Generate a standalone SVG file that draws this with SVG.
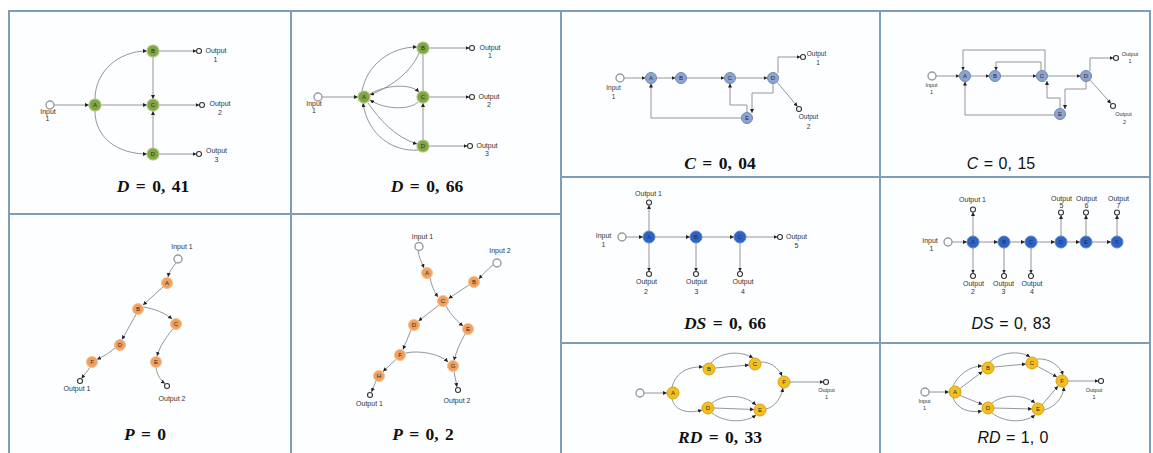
<svg xmlns="http://www.w3.org/2000/svg" width="1153" height="453" viewBox="0 0 1153 453">
<style>
.bg{fill:#fdfeff}
.frame{stroke:#7d9db8;stroke-width:2;fill:none}
.e{fill:none;stroke:#8a8a8a;stroke-width:0.9;marker-end:url(#ah)}
.en{fill:none;stroke:#8a8a8a;stroke-width:0.9}
.in{fill:#fff;stroke:#9a9a9a;stroke-width:1.4}
.out{fill:#fff;stroke:#333;stroke-width:1.1}
.n text{font-family:"Liberation Sans",Arial,sans-serif;font-size:6px;text-anchor:middle;fill:#2a2a2a}
.g circle{fill:#80a642;stroke:#adc784;stroke-width:1.2}
.lb circle{fill:#8ca4cf;stroke:#6d87b6;stroke-width:1}
.o circle{fill:#f0a05e;stroke:#f5c08e;stroke-width:1}
.db circle{fill:#2e63c2;stroke:#5a85d0;stroke-width:1}
.db text{fill:#173268}
.y circle{fill:#f1c020;stroke:#d7a112;stroke-width:1}
.l{font-family:"Liberation Sans",Arial,sans-serif;font-size:7px;text-anchor:middle;fill:#333}
.s65{font-size:6.5px}
.s55{font-size:5.5px}
.t{font-family:"Liberation Serif","Times New Roman",serif;font-weight:bold;font-size:17.5px;text-anchor:middle;fill:#111;word-spacing:2px}
.t2{font-family:"Liberation Sans",Arial,sans-serif;font-size:16px;text-anchor:middle;fill:#111;word-spacing:1px}
</style>
<defs>
<marker id="ah" viewBox="0 0 6 6" refX="6" refY="3" markerWidth="4" markerHeight="4" orient="auto" markerUnits="userSpaceOnUse"><path d="M0,0 L6,3 L0,6 z" fill="#222"/></marker>
</defs>
<rect width="1153" height="453" fill="#fff"/>
<g id="panels">
<rect class="bg" x="9" y="11" width="1141" height="442"/>
<path class="frame" d="M9,460 L9,11 L1150,11 L1150,460 M291,11 L291,460 M561,11 L561,460 M880,11 L880,460 M9,214 L561,214 M561,177 L1150,177 M561,343 L1150,343"/>
</g>

<!-- ================= Panel 1: D = 0,41 ================= -->
<g id="connectors">
<!-- P1 -->
<path class="e" d="M54,105 L89,105"/>
<path class="e" d="M95,99 C95,72 118,51 147,51"/>
<path class="e" d="M95,111 C95,138 118,154 147,154"/>
<path class="e" d="M101,105 L147,105"/>
<path class="e" d="M153,57 L153,99"/>
<path class="e" d="M153,148 L153,111"/>
<path class="e" d="M159,51 L196.5,51"/>
<path class="e" d="M159,105 L199.5,105"/>
<path class="e" d="M159,154 L196.5,154"/>
<!-- P2 -->
<path class="e" d="M322,97 L358,97"/>
<path class="e" d="M362,91 C367,65 390,47 417,47"/>
<path class="e" d="M419,53 C412,70 395,85 370,95"/>
<path class="e" d="M370,94 C385,85 410,83 419,92"/>
<path class="e" d="M418,102 C410,110 385,110 370,100"/>
<path class="e" d="M368,103 C380,120 395,137 417,144"/>
<path class="e" d="M418,150 C395,152 368,137 363,103"/>
<path class="en" d="M423,54 L423,91"/>
<path class="e" d="M423,140 L423,103"/>
<path class="e" d="M429,48 L469.5,48"/>
<path class="e" d="M429,97 L469.5,97"/>
<path class="e" d="M429,146 L467.5,146"/>
<!-- P3 -->
<path class="e" d="M624,78 L645.5,78"/>
<path class="e" d="M656.5,78 L675.5,78"/>
<path class="e" d="M686.5,78 L724.5,78"/>
<path class="e" d="M735.5,78 L767.5,78"/>
<path class="e" d="M778,73 L778,57 L800.5,57"/>
<path class="e" d="M777,82 L797.5,106.5"/>
<path class="e" d="M741.5,118 L651,118 L651,83.5"/>
<path class="e" d="M747,112.5 L747,105 L730,105 L730,83.5"/>
<path class="e" d="M773,83.5 L773,93 L752,93 L752,113"/>
<!-- P4 -->
<path class="e" d="M936,76 L959.5,76"/>
<path class="e" d="M970.5,76 L989.5,76"/>
<path class="e" d="M1000.5,76 L1036.5,76"/>
<path class="e" d="M1047.5,76 L1080.5,76"/>
<path class="e" d="M1045,71 L1045,50 L963,50 L963,70.5"/>
<path class="e" d="M1041,70.5 L1041,62 L996,62 L996,70.5"/>
<path class="e" d="M1054.5,115 L965,115 L965,81.5"/>
<path class="e" d="M1060,108.5 L1060,98 L1047,98 L1047,81"/>
<path class="e" d="M1086,81.5 L1086,89 L1065,89 L1065,109"/>
<path class="e" d="M1090,71 L1090,58 L1113.5,58"/>
<path class="e" d="M1090,80 L1111,103.5"/>
<!-- P5 -->
<path class="e" d="M176,263 C172,268 169,272 168,277"/>
<path class="e" d="M163,287 L143,305"/>
<path class="e" d="M143.5,307 C155,309 165,313 172,319"/>
<path class="e" d="M136,314.5 L122,339.5"/>
<path class="e" d="M115,348 C108,354 102,357 97,359.5"/>
<path class="e" d="M173,329 C166,337 160,346 157,356"/>
<path class="e" d="M90,367.5 L81.5,378.5"/>
<path class="e" d="M156,367.5 C157,375 161,381 165,383.5"/>
<!-- P6 -->
<path class="e" d="M418,250.5 C419,258 422,263 424,268"/>
<path class="e" d="M493,265 C487,270 482,275 479,279"/>
<path class="e" d="M430,278 C432,287 435,293 438,297"/>
<path class="e" d="M469,285 L448.5,298.5"/>
<path class="e" d="M439,305 L418.5,321"/>
<path class="e" d="M446,306 C451,315 458,322 463,326"/>
<path class="e" d="M411,330 L403,349.5"/>
<path class="e" d="M465,334 C460,343 456,352 454,360.5"/>
<path class="e" d="M405.5,353 C420,350 440,354 448,362"/>
<path class="e" d="M396,359.5 L383,371.5"/>
<path class="e" d="M376,381 L371.5,392"/>
<path class="e" d="M454,371.5 L457,387"/>
<!-- P7 -->
<path class="e" d="M626,237 L643,237"/>
<path class="e" d="M655,237 L690,237"/>
<path class="e" d="M702,237 L734,237"/>
<path class="e" d="M746,237 L777.5,237"/>
<path class="e" d="M649,231 L649,205"/>
<path class="e" d="M649,243 L649,271.5"/>
<path class="e" d="M696,243 L696,271.5"/>
<path class="e" d="M740,243 L740,271.5"/>
<!-- P8 -->
<path class="e" d="M952,242 L967,242"/>
<path class="e" d="M979,242 L998,242"/>
<path class="e" d="M1010,242 L1025,242"/>
<path class="e" d="M1037,242 L1055,242"/>
<path class="e" d="M1067,242 L1080,242"/>
<path class="e" d="M1092,242 L1111,242"/>
<path class="e" d="M973,236 L973,212"/>
<path class="e" d="M1061,236 L1061,215"/>
<path class="e" d="M1086,236 L1086,215"/>
<path class="e" d="M1117,236 L1117,215"/>
<path class="e" d="M973,248 L973,273.5"/>
<path class="e" d="M1004,248 L1004,273.5"/>
<path class="e" d="M1031,248 L1031,273.5"/>
<!-- P9 -->
<path class="e" d="M644,393 L667,393"/>
<path class="e" d="M672,387 C675,375 685,366 703,367"/>
<path class="e" d="M672,399 C675,411 688,414 702,410"/>
<path class="e" d="M715,368 L749,365"/>
<path class="e" d="M711,363 C720,352 740,350 753,358"/>
<path class="e" d="M761,362 C770,362 778,367 782,376"/>
<path class="e" d="M714,408 L754,409.5"/>
<path class="e" d="M712,403 C725,393 745,395 756,405"/>
<path class="e" d="M712,413 C725,423 745,423 756,415"/>
<path class="e" d="M766,409 C775,407 781,398 783,388"/>
<path class="e" d="M790,382 L823.5,382"/>
<!-- P10 -->
<path class="e" d="M929,392 L949,392"/>
<path class="e" d="M960,388.5 L982.5,371.5"/>
<path class="e" d="M953,386 C958,375 970,366 982,366"/>
<path class="e" d="M960,395.5 L982.5,404.5"/>
<path class="e" d="M953,398 C958,410 970,413 982,411"/>
<path class="e" d="M994,367 L1026,364"/>
<path class="e" d="M990,362 C1000,352 1020,350 1030,357"/>
<path class="e" d="M1037,366 L1057,377"/>
<path class="e" d="M1037,359 C1050,358 1060,366 1063,375"/>
<path class="e" d="M994,408 L1032,409"/>
<path class="e" d="M992,403 C1005,393 1025,395 1035,403"/>
<path class="e" d="M992,413 C1005,423 1025,423 1035,415"/>
<path class="e" d="M1042,405 L1058,386"/>
<path class="e" d="M1044,410 C1055,407 1063,398 1064,387"/>
<path class="e" d="M1068,381 L1098.5,381"/>
</g>

<!-- Panel 1 nodes -->
<g id="p1-in"><circle class="in" cx="50" cy="105" r="4"/><text class="l" x="48" y="113.5">Input</text><text class="l" x="47.5" y="121">1</text></g>
<g id="p1-A" class="n g"><circle cx="95" cy="105" r="6"/><text x="95" y="107.2">A</text></g>
<g id="p1-B" class="n g"><circle cx="153" cy="51" r="6"/><text x="153" y="53.2">B</text></g>
<g id="p1-C" class="n g"><circle cx="153" cy="105" r="6"/><text x="153" y="107.2">C</text></g>
<g id="p1-D" class="n g"><circle cx="153" cy="154" r="6"/><text x="153" y="156.2">D</text></g>
<g id="p1-o1"><circle class="out" cx="199" cy="51" r="2.5"/><text class="l" x="216" y="52.5">Output</text><text class="l" x="215.5" y="61.5">1</text></g>
<g id="p1-o2"><circle class="out" cx="202" cy="105" r="2.5"/><text class="l" x="220" y="106">Output</text><text class="l" x="220" y="114.5">2</text></g>
<g id="p1-o3"><circle class="out" cx="199" cy="154" r="2.5"/><text class="l" x="216.5" y="153">Output</text><text class="l" x="216.5" y="162">3</text></g>
<text id="p1-title" class="t" x="153" y="191.5"><tspan font-style="italic">D</tspan> = 0, 41</text>

<!-- Panel 2 nodes -->
<g id="p2-in"><circle class="in" cx="318" cy="97" r="4"/><text class="l" x="314" y="105.5">Input</text><text class="l" x="314" y="113.3">1</text></g>
<g id="p2-A" class="n g"><circle cx="364" cy="97" r="6"/><text x="364" y="99.2">A</text></g>
<g id="p2-B" class="n g"><circle cx="423" cy="48" r="6"/><text x="423" y="50.2">B</text></g>
<g id="p2-C" class="n g"><circle cx="423" cy="97" r="6"/><text x="423" y="99.2">C</text></g>
<g id="p2-D" class="n g"><circle cx="423" cy="146" r="6"/><text x="423" y="148.2">D</text></g>
<g id="p2-o1"><circle class="out" cx="472" cy="48" r="2.5"/><text class="l" x="490" y="49.5">Output</text><text class="l" x="490" y="58">1</text></g>
<g id="p2-o2"><circle class="out" cx="472" cy="97" r="2.5"/><text class="l" x="489" y="98.5">Output</text><text class="l" x="489" y="107">2</text></g>
<g id="p2-o3"><circle class="out" cx="470" cy="146" r="2.5"/><text class="l" x="487" y="147.5">Output</text><text class="l" x="487" y="156">3</text></g>
<text id="p2-title" class="t" x="427" y="191.5"><tspan font-style="italic">D</tspan> = 0, 66</text>

<!-- Panel 3 nodes -->
<g id="p3-in"><circle class="in" cx="620" cy="78" r="4"/><text class="l s65" x="613.5" y="90">Input</text><text class="l s65" x="613.5" y="99">1</text></g>
<g id="p3-A" class="n lb"><circle cx="651" cy="78" r="5.5"/><text x="651" y="80.2">A</text></g>
<g id="p3-B" class="n lb"><circle cx="681" cy="78" r="5.5"/><text x="681" y="80.2">B</text></g>
<g id="p3-C" class="n lb"><circle cx="730" cy="78" r="5.5"/><text x="730" y="80.2">C</text></g>
<g id="p3-D" class="n lb"><circle cx="773" cy="78" r="5.5"/><text x="773" y="80.2">D</text></g>
<g id="p3-E" class="n lb"><circle cx="747" cy="118" r="5.5"/><text x="747" y="120.2">E</text></g>
<g id="p3-o1"><circle class="out" cx="803" cy="57" r="2.5"/><text class="l s65" x="816.5" y="55.5">Output</text><text class="l s65" x="818" y="65">1</text></g>
<g id="p3-o2"><circle class="out" cx="799" cy="109" r="2.5"/><text class="l s65" x="808.5" y="119">Output</text><text class="l s65" x="808.5" y="128.5">2</text></g>
<text id="p3-title" class="t" x="720" y="168.5"><tspan font-style="italic">C</tspan> = 0, 04</text>

<!-- Panel 4 nodes -->
<g id="p4-in"><circle class="in" cx="932" cy="76" r="4"/><text class="l s55" x="931.5" y="86.5">Input</text><text class="l s55" x="931.5" y="93.5">1</text></g>
<g id="p4-A" class="n lb"><circle cx="965" cy="76" r="5.5"/><text x="965" y="78.2">A</text></g>
<g id="p4-B" class="n lb"><circle cx="995" cy="76" r="5.5"/><text x="995" y="78.2">B</text></g>
<g id="p4-C" class="n lb"><circle cx="1042" cy="76" r="5.5"/><text x="1042" y="78.2">C</text></g>
<g id="p4-D" class="n lb"><circle cx="1086" cy="76" r="5.5"/><text x="1086" y="78.2">D</text></g>
<g id="p4-E" class="n lb"><circle cx="1060" cy="114" r="5.5"/><text x="1060" y="116.2">E</text></g>
<g id="p4-o1"><circle class="out" cx="1116" cy="58" r="2.5"/><text class="l s55" x="1130" y="55.5">Output</text><text class="l s55" x="1130" y="63">1</text></g>
<g id="p4-o2"><circle class="out" cx="1113" cy="106" r="2.5"/><text class="l s55" x="1123.5" y="116">Output</text><text class="l s55" x="1124.5" y="124">2</text></g>
<text id="p4-title" class="t2" x="1001" y="168.5"><tspan font-style="italic">C</tspan> = 0, 15</text>

<!-- Panel 5 nodes -->
<g id="p5-in"><circle class="in" cx="178" cy="259" r="4"/><text class="l" x="182" y="248.5">Input 1</text></g>
<g id="p5-A" class="n o"><circle cx="167" cy="283" r="5.5"/><text x="167" y="285.2">A</text></g>
<g id="p5-B" class="n o"><circle cx="138" cy="309" r="5.5"/><text x="138" y="311.2">B</text></g>
<g id="p5-C" class="n o"><circle cx="176" cy="324" r="5.5"/><text x="176" y="326.2">C</text></g>
<g id="p5-D" class="n o"><circle cx="120" cy="345" r="5.5"/><text x="120" y="347.2">D</text></g>
<g id="p5-F" class="n o"><circle cx="92" cy="362" r="5.5"/><text x="92" y="364.2">F</text></g>
<g id="p5-E" class="n o"><circle cx="156" cy="362" r="5.5"/><text x="156" y="364.2">E</text></g>
<g id="p5-o1"><circle class="out" cx="80" cy="381" r="2.5"/><text class="l" x="77" y="391">Output 1</text></g>
<g id="p5-o2"><circle class="out" cx="167" cy="386" r="2.5"/><text class="l" x="172" y="401">Output 2</text></g>
<text id="p5-title" class="t" x="145" y="439.5"><tspan font-style="italic">P</tspan> = 0</text>

<!-- Panel 6 nodes -->
<g id="p6-in1"><circle class="in" cx="419" cy="246.5" r="4"/><text class="l" x="422.5" y="238.5">Input 1</text></g>
<g id="p6-in2"><circle class="in" cx="497" cy="263" r="4"/><text class="l" x="500" y="252.5">Input 2</text></g>
<g id="p6-A" class="n o"><circle cx="427" cy="273" r="5.5"/><text x="427" y="275.2">A</text></g>
<g id="p6-B" class="n o"><circle cx="474" cy="282" r="5.5"/><text x="474" y="284.2">B</text></g>
<g id="p6-C" class="n o"><circle cx="443" cy="301" r="5.5"/><text x="443" y="303.2">C</text></g>
<g id="p6-D" class="n o"><circle cx="414" cy="325" r="5.5"/><text x="414" y="327.2">D</text></g>
<g id="p6-E" class="n o"><circle cx="468" cy="329" r="5.5"/><text x="468" y="331.2">E</text></g>
<g id="p6-F" class="n o"><circle cx="400" cy="355" r="5.5"/><text x="400" y="357.2">F</text></g>
<g id="p6-G" class="n o"><circle cx="453" cy="366" r="5.5"/><text x="453" y="368.2">G</text></g>
<g id="p6-H" class="n o"><circle cx="379" cy="376" r="5.5"/><text x="379" y="378.2">H</text></g>
<g id="p6-o1"><circle class="out" cx="370" cy="395" r="2.5"/><text class="l" x="369.5" y="406">Output 1</text></g>
<g id="p6-o2"><circle class="out" cx="458" cy="390" r="2.5"/><text class="l" x="457" y="402.5">Output 2</text></g>
<text id="p6-title" class="t" x="423" y="439.5"><tspan font-style="italic">P</tspan> = 0, 2</text>

<!-- Panel 7 nodes -->
<g id="p7-in"><circle class="in" cx="622" cy="237" r="4"/><text class="l" x="603.5" y="237.5">Input</text><text class="l" x="603.5" y="246.5">1</text></g>
<g id="p7-A" class="n db"><circle cx="649" cy="237" r="6"/><text x="649" y="239.2">A</text></g>
<g id="p7-B" class="n db"><circle cx="696" cy="237" r="6"/><text x="696" y="239.2">B</text></g>
<g id="p7-C" class="n db"><circle cx="740" cy="237" r="6"/><text x="740" y="239.2">C</text></g>
<g id="p7-o1"><circle class="out" cx="649" cy="202.5" r="2.5"/><text class="l" x="648.5" y="195.5">Output 1</text></g>
<g id="p7-o5"><circle class="out" cx="780" cy="237" r="2.5"/><text class="l" x="796.5" y="238.5">Output</text><text class="l" x="796.5" y="247.5">5</text></g>
<g id="p7-o2"><circle class="out" cx="649" cy="274" r="2.5"/><text class="l" x="646.5" y="284">Output</text><text class="l" x="646" y="293.5">2</text></g>
<g id="p7-o3"><circle class="out" cx="696" cy="274" r="2.5"/><text class="l" x="696.5" y="284">Output</text><text class="l" x="696.5" y="293.5">3</text></g>
<g id="p7-o4"><circle class="out" cx="740" cy="274" r="2.5"/><text class="l" x="743" y="284">Output</text><text class="l" x="743" y="293.5">4</text></g>
<text id="p7-title" class="t" x="725" y="329"><tspan font-style="italic">DS</tspan> = 0, 66</text>

<!-- Panel 8 nodes -->
<g id="p8-in"><circle class="in" cx="948" cy="242" r="4"/><text class="l" x="930" y="242.5">Input</text><text class="l" x="931.5" y="250.5">1</text></g>
<g id="p8-A" class="n db"><circle cx="973" cy="242" r="6"/><text x="973" y="244.2">A</text></g>
<g id="p8-B" class="n db"><circle cx="1004" cy="242" r="6"/><text x="1004" y="244.2">B</text></g>
<g id="p8-C" class="n db"><circle cx="1031" cy="242" r="6"/><text x="1031" y="244.2">C</text></g>
<g id="p8-D" class="n db"><circle cx="1061" cy="242" r="6"/><text x="1061" y="244.2">D</text></g>
<g id="p8-E" class="n db"><circle cx="1086" cy="242" r="6"/><text x="1086" y="244.2">E</text></g>
<g id="p8-F" class="n db"><circle cx="1117" cy="242" r="6"/><text x="1117" y="244.2">F</text></g>
<g id="p8-o1"><circle class="out" cx="973" cy="209.5" r="2.5"/><text class="l" x="972.5" y="202">Output 1</text></g>
<g id="p8-o5"><circle class="out" cx="1061" cy="212.5" r="2.5"/><text class="l" x="1061.5" y="201">Output</text><text class="l" x="1061.5" y="207.5">5</text></g>
<g id="p8-o6"><circle class="out" cx="1086" cy="212.5" r="2.5"/><text class="l" x="1086.5" y="201">Output</text><text class="l" x="1086.5" y="207.5">6</text></g>
<g id="p8-o7"><circle class="out" cx="1117" cy="212.5" r="2.5"/><text class="l" x="1118.5" y="201">Output</text><text class="l" x="1118.5" y="207.5">7</text></g>
<g id="p8-o2"><circle class="out" cx="973" cy="276" r="2.5"/><text class="l" x="973.5" y="285.5">Output</text><text class="l" x="973" y="294">2</text></g>
<g id="p8-o3"><circle class="out" cx="1004" cy="276" r="2.5"/><text class="l" x="1003.5" y="285.5">Output</text><text class="l" x="1003.5" y="294">3</text></g>
<g id="p8-o4"><circle class="out" cx="1031" cy="276" r="2.5"/><text class="l" x="1032" y="285.5">Output</text><text class="l" x="1032" y="294">4</text></g>
<text id="p8-title" class="t2" x="1011" y="329"><tspan font-style="italic">DS</tspan> = 0, 83</text>

<!-- Panel 9 nodes -->
<g id="p9-in"><circle class="in" cx="640" cy="393" r="4"/></g>
<g id="p9-A" class="n y"><circle cx="673" cy="393" r="6"/><text x="673" y="395.2">A</text></g>
<g id="p9-B" class="n y"><circle cx="709" cy="369" r="6"/><text x="709" y="371.2">B</text></g>
<g id="p9-C" class="n y"><circle cx="755" cy="364" r="6"/><text x="755" y="366.2">C</text></g>
<g id="p9-D" class="n y"><circle cx="708" cy="408" r="6"/><text x="708" y="410.2">D</text></g>
<g id="p9-E" class="n y"><circle cx="760" cy="410" r="6"/><text x="760" y="412.2">E</text></g>
<g id="p9-F" class="n y"><circle cx="784" cy="382" r="6"/><text x="784" y="384.2">F</text></g>
<g id="p9-o1"><circle class="out" cx="826" cy="382" r="2.5"/><text class="l s55" x="826.5" y="392">Output</text><text class="l s55" x="826.5" y="398.5">1</text></g>
<text id="p9-title" class="t" x="720" y="442.5"><tspan font-style="italic">RD</tspan> = 0, 33</text>

<!-- Panel 10 nodes -->
<g id="p10-in"><circle class="in" cx="925" cy="392" r="4"/><text class="l s55" x="924.5" y="403">Input</text><text class="l s55" x="924.5" y="410">1</text></g>
<g id="p10-A" class="n y"><circle cx="955" cy="392" r="6"/><text x="955" y="394.2">A</text></g>
<g id="p10-B" class="n y"><circle cx="988" cy="368" r="6"/><text x="988" y="370.2">B</text></g>
<g id="p10-C" class="n y"><circle cx="1032" cy="363" r="6"/><text x="1032" y="365.2">C</text></g>
<g id="p10-D" class="n y"><circle cx="988" cy="408" r="6"/><text x="988" y="410.2">D</text></g>
<g id="p10-E" class="n y"><circle cx="1038" cy="409" r="6"/><text x="1038" y="411.2">E</text></g>
<g id="p10-F" class="n y"><circle cx="1062" cy="381" r="6"/><text x="1062" y="383.2">F</text></g>
<g id="p10-o1"><circle class="out" cx="1101" cy="381" r="2.5"/><text class="l s55" x="1094" y="391.5">Output</text><text class="l s55" x="1094" y="398.5">1</text></g>
<text id="p10-title" class="t2" x="1013" y="442.5"><tspan font-style="italic">RD</tspan> = 1, 0</text>
</svg>
